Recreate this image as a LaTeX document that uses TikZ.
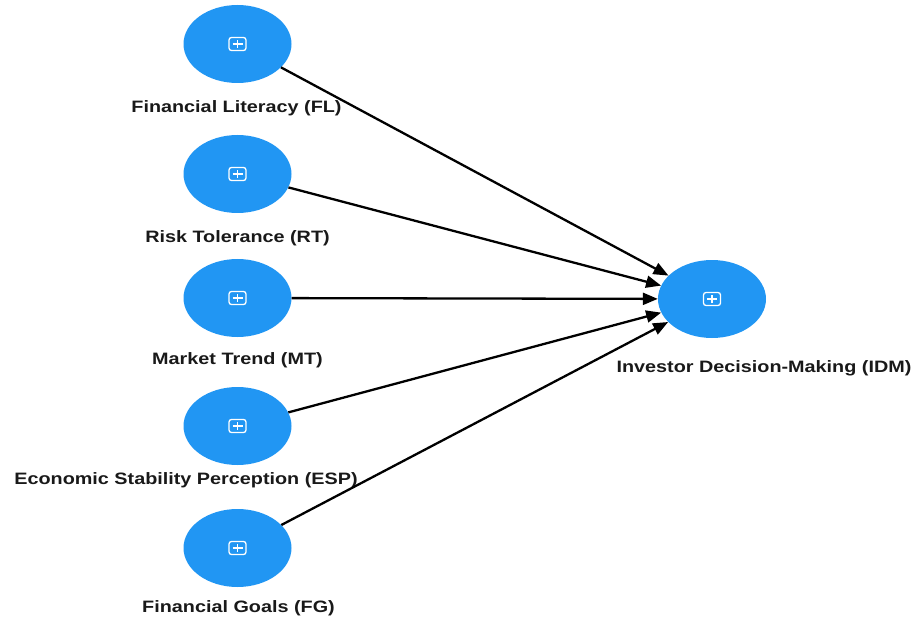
\documentclass[tikz,border=0pt]{standalone}
\usepackage{fontspec}
\setmainfont{Liberation Sans}[FakeStretch=1.2]
\usetikzlibrary{shapes.geometric, arrows.meta}

\definecolor{constructblue}{RGB}{33,150,243}

\begin{document}
\begin{tikzpicture}[
  x=1pt, y=-1pt,
  construct/.style={ellipse, fill=constructblue, draw=none,
    minimum width=108pt, minimum height=78pt, inner sep=0pt,
    path picture={
      \draw[white, line width=1.3pt, rounded corners=2.5pt]
        ([xshift=-8.5pt,yshift=-6.5pt]path picture bounding box.center)
        rectangle ([xshift=8.5pt,yshift=6.5pt]path picture bounding box.center);
      \draw[white, line width=1.3pt]
        ([xshift=-5pt]path picture bounding box.center) --
        ([xshift=5pt]path picture bounding box.center)
        ([yshift=-4pt]path picture bounding box.center) --
        ([yshift=4pt]path picture bounding box.center);
    }},
  constructlabel/.style={anchor=base, inner sep=0pt,
    font=\fontsize{16.5}{20}\selectfont\bfseries, text=black!90},
  path/.style={draw, line width=2.3pt, -{Triangle[length=15pt, width=12pt]}}
  ]

\useasboundingbox (0,0) rectangle (914,623);

% Konstrukte
\node[construct] (fl)  at (237.5,44)  {};
\node[construct] (rt)  at (237.5,174) {};
\node[construct] (mt)  at (237.5,298) {};
\node[construct] (esp) at (237.5,426) {};
\node[construct] (fg)  at (237.5,548) {};
\node[construct] (idm) at (712,299)   {};

% Beschriftungen
\node[constructlabel] (fl-lab)  at (236.5,113) {Financial Literacy (FL)};
\node[constructlabel] (rt-lab)  at (237.5,243) {Risk Tolerance (RT)};
\node[constructlabel] (mt-lab)  at (237.5,364) {Market Trend (MT)};
\node[constructlabel] (esp-lab) at (186,484) {Economic Stability Perception (ESP)};
\node[constructlabel] (fg-lab)  at (238.5,612) {Financial Goals (FG)};
\node[constructlabel] (idm-lab) at (764,372) {Investor Decision-Making (IDM)};

% Pfade
\foreach \src in {fl, rt, mt, esp, fg}
  \draw[path] (\src) -- (idm);

\end{tikzpicture}
\end{document}
